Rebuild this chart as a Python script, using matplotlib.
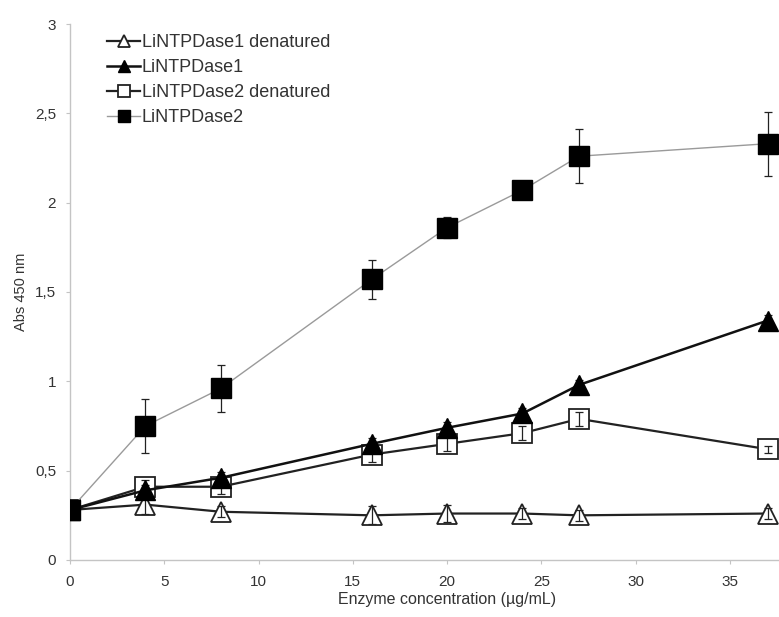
import matplotlib
matplotlib.use('Agg')
import matplotlib.pyplot as plt
import matplotlib.ticker as mticker
from matplotlib.lines import Line2D

plt.rcParams['font.family'] = ['Liberation Sans', 'DejaVu Sans']

# ── data ──────────────────────────────────────────────────
conc = [0, 4, 8, 16, 20, 24, 27, 37]

nt1_den = [0.28, 0.31, 0.27, 0.25, 0.26, 0.26, 0.25, 0.26]
nt1_den_err = [0.02, 0.05, 0.03, 0.05, 0.05, 0.03, 0.03, 0.03]

nt1 = [0.28, 0.39, 0.46, 0.65, 0.74, 0.82, 0.98, 1.34]
nt1_err = [0.02, 0.03, 0.03, 0.03, 0.03, 0.03, 0.03, 0.03]

nt2_den = [0.28, 0.41, 0.41, 0.59, 0.65, 0.71, 0.79, 0.62]
nt2_den_err = [0.02, 0.04, 0.04, 0.04, 0.04, 0.04, 0.04, 0.02]

nt2 = [0.28, 0.75, 0.96, 1.57, 1.86, 2.07, 2.26, 2.33]
nt2_err = [0.02, 0.15, 0.13, 0.11, 0.06, 0.03, 0.15, 0.18]

labels = ['LiNTPDase1 denatured', 'LiNTPDase1', 'LiNTPDase2 denatured', 'LiNTPDase2']
yticks = [0, 0.5, 1, 1.5, 2, 2.5, 3]
xticks = [0, 5, 10, 15, 20, 25, 30, 35]

AXIS_GRAY = '#c4c4c4'
TEXT = '#333333'

fig = plt.figure(figsize=(7.79, 6.17), dpi=100)
# the original plot area runs to x=40, the picture is cropped at the right
ax = fig.add_axes([0.0899, 0.0924, 0.968, 0.8687])

# (values, errors, style, z-order, error bars above markers?)
series = [
    (nt1_den, nt1_den_err, dict(color='#222222', lw=1.6, marker='^', ms=14,
                                mfc='white', mec='#222222', mew=1.3), 3, True),
    (nt1, nt1_err, dict(color='#111111', lw=1.8, marker='^', ms=14,
                        mfc='black', mec='black', mew=1.0), 5, False),
    (nt2_den, nt2_den_err, dict(color='#222222', lw=1.6, marker='s', ms=15,
                                mfc='white', mec='#222222', mew=1.3), 4, True),
    (nt2, nt2_err, dict(color='#9a9a9a', lw=1.0, marker='s', ms=15,
                        mfc='black', mec='black', mew=1.0), 6, False),
]

handles = []
for (ys, errs, st, z, on_top), lab in zip(series, labels):
    ax.plot(conc, ys, zorder=z, **st)
    ax.errorbar(conc, ys, yerr=errs, fmt='none', ecolor='#222222',
                elinewidth=0.9, capsize=3, capthick=0.9,
                zorder=z + 0.5 if on_top else z - 0.5)
    hst = dict(st)
    hst['ms'] = 8
    handles.append(Line2D([], [], label=lab, **hst))

ax.set_xlim(0, 40)
ax.set_ylim(0, 3)
ax.set_xticks(xticks)
ax.set_yticks(yticks)
ax.yaxis.set_major_formatter(mticker.FuncFormatter(
    lambda v, p: ('%g' % v).replace('.', ',')))

for side in ('top', 'right'):
    ax.spines[side].set_visible(False)
for side in ('left', 'bottom'):
    ax.spines[side].set_color(AXIS_GRAY)
    ax.spines[side].set_linewidth(1.0)
ax.tick_params(axis='both', direction='out', length=3, width=0.8,
               color=AXIS_GRAY, labelcolor=TEXT, labelsize=11)
ax.tick_params(axis='x', pad=8)
ax.tick_params(axis='y', pad=7)

ax.set_xlabel('Enzyme concentration (µg/mL)', fontsize=11.5, color=TEXT, labelpad=2)
ax.set_ylabel('Abs 450 nm', fontsize=10.5, color=TEXT, labelpad=5)

leg = ax.legend(handles=handles, loc='upper left', bbox_to_anchor=(0.04, 0.995),
                frameon=False, fontsize=13, handlelength=1.8, handletextpad=0.1,
                labelspacing=0.45, borderaxespad=0)
for t in leg.get_texts():
    t.set_color(TEXT)

fig.savefig('out.png', dpi=100)
